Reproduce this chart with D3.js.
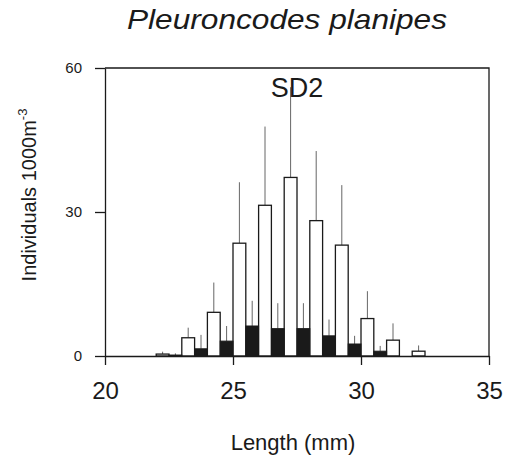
<!DOCTYPE html>
<html>
<head>
<meta charset="utf-8">
<script src="https://cdn.jsdelivr.net/npm/d3@7"></script>
<style>
  body { margin: 0; background: #fff; }
  svg text { font-family: Arial, "Liberation Sans", sans-serif; fill: #1a1a1a; }
</style>
</head>
<body>
<div id="chart"></div>
<script>
// length classes (mm), two bars per class
let lengthClass = [22, 23, 24, 25, 26, 27, 28, 29, 30, 31, 32]
// open bars: mean and sd
let openMean = [0.4, 3.8, 9.1, 23.5, 31.4, 37.2, 28.2, 23.1, 7.8, 3.3, 1.0]
let openSd = [0.5, 2.1, 6.2, 12.7, 16.4, 18.8, 14.5, 12.5, 5.7, 3.5, 1.2]
// filled bars: mean and sd
let filledMean = [0.2, 1.5, 3.1, 6.25, 5.7, 5.7, 4.2, 2.5, 1.0, 0, 0]
let filledSd = [0.35, 2.9, 3.15, 5.25, 5.3, 5.3, 3.4, 1.7, 1.1, 0, 0]

let xTicks = [20, 25, 30, 35]
let yTicks = [0, 30, 60]

let W = 507, H = 465
let margin = { top: 68, right: 18, bottom: 109, left: 105 }

let svg = d3.select("#chart")
    .append("svg")
    .attr("width", W)
    .attr("height", H)

let xScale = d3.scaleLinear()
    .domain([20, 35])
    .range([margin.left, W - margin.right])

let yScale = d3.scaleLinear()
    .domain([0, 60])
    .range([H - margin.bottom, margin.top])

let ink = "#1a1a1a"

// bars: open at [L, L+0.5], filled at [L+0.5, L+1]
let rows = lengthClass.map((d, i) => ({
    len: d, om: openMean[i], os: openSd[i], fm: filledMean[i], fs: filledSd[i]
}))

let bars = svg.append("g")

// error lines first
bars.selectAll(".errO")
    .data(rows.filter(d => d.os > 0))
    .enter()
    .append("line")
    .attr("x1", d => xScale(d.len + 0.25))
    .attr("x2", d => xScale(d.len + 0.25))
    .attr("y1", d => yScale(d.om))
    .attr("y2", d => yScale(d.om + d.os))
    .style("stroke", "#666")
    .style("stroke-width", 1)

bars.selectAll(".errF")
    .data(rows.filter(d => d.fs > 0))
    .enter()
    .append("line")
    .attr("x1", d => xScale(d.len + 0.75))
    .attr("x2", d => xScale(d.len + 0.75))
    .attr("y1", d => yScale(d.fm))
    .attr("y2", d => yScale(d.fm + d.fs))
    .style("stroke", "#666")
    .style("stroke-width", 1)

bars.selectAll(".open")
    .data(rows.filter(d => d.om > 0))
    .enter()
    .append("rect")
    .attr("x", d => xScale(d.len))
    .attr("width", d => xScale(d.len + 0.5) - xScale(d.len))
    .attr("y", d => yScale(d.om))
    .attr("height", d => yScale(0) - yScale(d.om))
    .style("fill", "#fff")
    .style("stroke", ink)
    .style("stroke-width", 1.3)

bars.selectAll(".filled")
    .data(rows.filter(d => d.fm > 0))
    .enter()
    .append("rect")
    .attr("x", d => xScale(d.len + 0.5))
    .attr("width", d => xScale(d.len + 1) - xScale(d.len + 0.5))
    .attr("y", d => yScale(d.fm))
    .attr("height", d => yScale(0) - yScale(d.fm))
    .style("fill", ink)
    .style("stroke", ink)
    .style("stroke-width", 1)

// axes
let xAxis = svg.append("g")
    .attr("transform", "translate(0," + yScale(0) + ")")
    .call(d3.axisBottom(xScale).tickValues(xTicks).tickSize(9).tickSizeOuter(0).tickPadding(17))
xAxis.selectAll("text").style("font-size", "24px").attr("font-family", null)

let yAxis = svg.append("g")
    .attr("transform", "translate(" + xScale(20) + ",0)")
    .call(d3.axisLeft(yScale).tickValues(yTicks).tickSize(10).tickSizeOuter(0).tickPadding(13))
yAxis.selectAll("text").style("font-size", "15px").attr("font-family", null)

svg.selectAll(".domain, .tick line").style("stroke", ink).style("stroke-width", 1.3)

// box top and right
svg.append("path")
    .attr("d", "M" + xScale(20) + "," + yScale(60) + "H" + xScale(35) + "V" + yScale(0))
    .style("fill", "none")
    .style("stroke", ink)
    .style("stroke-width", 1.3)

// texts
svg.append("text")
    .attr("x", 287)
    .attr("y", 29)
    .attr("text-anchor", "middle")
    .attr("textLength", 320)
    .attr("lengthAdjust", "spacingAndGlyphs")
    .style("font-size", "28px")
    .style("font-style", "italic")
    .text("Pleuroncodes planipes")

svg.append("text")
    .attr("x", (xScale(20) + xScale(35)) / 2)
    .attr("y", 97)
    .attr("text-anchor", "middle")
    .style("font-size", "27px")
    .text("SD2")

svg.append("text")
    .attr("x", 293)
    .attr("y", 450)
    .attr("text-anchor", "middle")
    .style("font-size", "22px")
    .text("Length (mm)")

let yLab = svg.append("text")
    .attr("transform", "translate(36,195) rotate(-90)")
    .attr("text-anchor", "middle")
    .style("font-size", "20px")
yLab.append("tspan").text("Individuals 1000m")
yLab.append("tspan").attr("dy", -9).style("font-size", "13px").text("-3")
</script>
</body>
</html>
